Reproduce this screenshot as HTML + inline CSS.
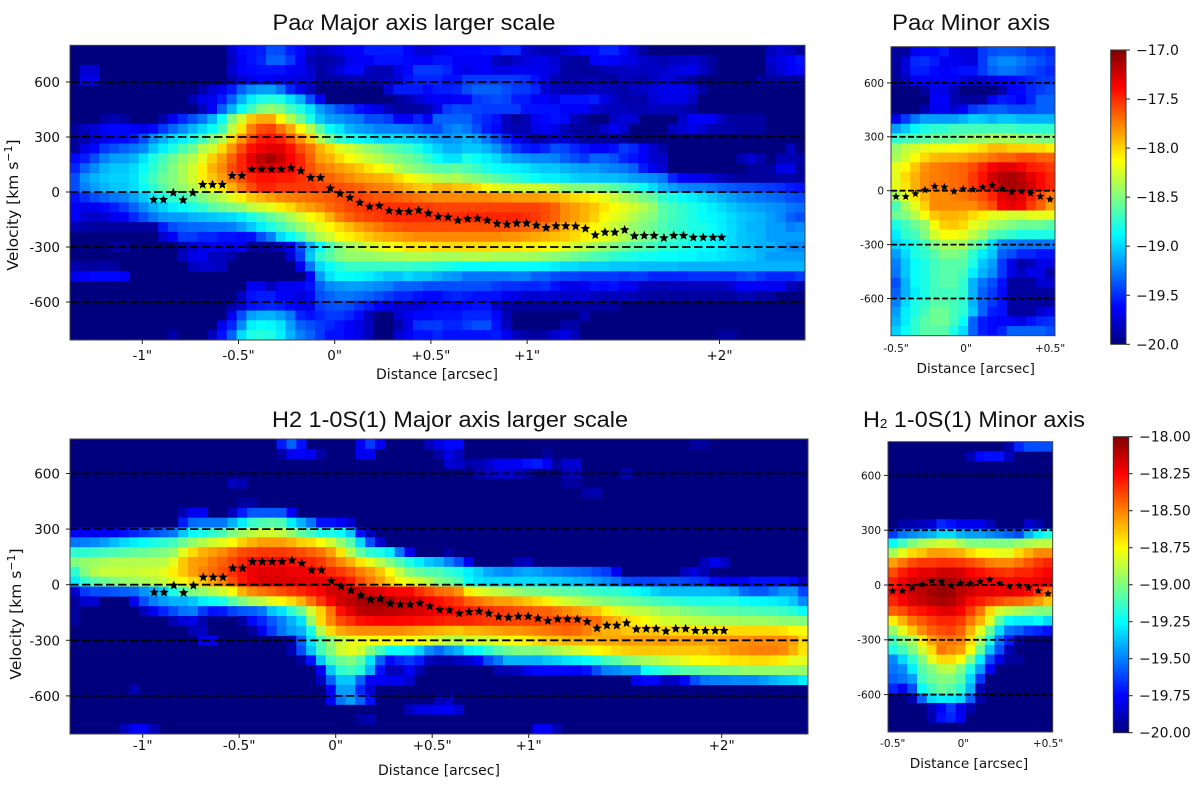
<!DOCTYPE html>
<html>
<head>
<meta charset="utf-8">
<title>Position-velocity diagrams</title>
<style>
html,body{margin:0;padding:0;background:#fff;width:1200px;height:789px;overflow:hidden}
svg{display:block}
text{font-family:"DejaVu Sans",sans-serif;fill:#111}
.ttl{font-family:"Liberation Sans",sans-serif;font-size:22.5px;fill:#111}
.gr{font-family:"Liberation Serif",serif;font-style:italic}
</style>
</head>
<body>
<svg id="fig" xmlns="http://www.w3.org/2000/svg" width="1200" height="789" viewBox="0 0 1200 789">
<defs>
<linearGradient id="jetA" x1="0" y1="1" x2="0" y2="0"></linearGradient>
<linearGradient id="jetB" x1="0" y1="1" x2="0" y2="0"></linearGradient>
</defs>
<text class="ttl" x="272.5" y="30" textLength="283" lengthAdjust="spacingAndGlyphs">Pa<tspan class="gr">α</tspan> Major axis larger scale</text>
<text class="ttl" x="892" y="30" textLength="158" lengthAdjust="spacingAndGlyphs">Pa<tspan class="gr">α</tspan>  Minor axis</text>
<text class="ttl" x="272" y="427" textLength="356" lengthAdjust="spacingAndGlyphs">H2 1-0S(1) Major axis larger scale</text>
<text class="ttl" x="863" y="427" textLength="222" lengthAdjust="spacingAndGlyphs">H<tspan font-size="13" dy="1">2</tspan><tspan dy="-1"> 1-0S(1) Minor axis</tspan></text>
</svg>
<script>
// Data: colour levels are percent of each panel's colour range, rows top to bottom
const paMajorLevels = [
[0,0,0,0,0,0,0,0,0,0,0,0,0,0,0,0,8,13,14,15,20,20,15,13,8,6,8,10,12,12,15,15,15,15,12,8,8,10,12,13,13,13,14,14,16,16,8,6,5,5,8,10,13,13,16,16,13,8,3,0,0,0,0,0,0,0,0,0,0,0,0,6,8,6,3],
[0,0,0,0,0,0,0,0,0,0,0,0,0,0,0,0,6,12,14,16,22,22,18,12,5,4,4,6,10,12,12,14,14,14,13,12,12,14,14,12,12,12,12,6,5,7,9,10,10,8,4,3,3,12,13,12,10,10,7,6,5,6,7,8,6,3,0,0,0,0,0,8,10,12,14],
[0,8,8,0,0,0,0,0,0,0,0,0,0,0,0,0,8,12,13,14,14,14,12,11,8,3,6,9,13,13,7,5,5,10,13,18,18,18,16,12,10,12,12,10,10,11,11,11,10,9,4,3,3,3,5,6,6,7,6,7,7,9,10,11,7,3,0,0,0,0,0,6,9,12,13],
[0,10,10,0,0,0,0,0,0,0,0,0,0,0,0,0,5,8,10,12,11,10,10,9,8,3,3,4,5,5,5,5,6,9,14,16,16,16,14,14,18,18,18,18,18,18,17,14,10,5,4,4,4,4,3,3,6,5,4,6,9,8,5,3,0,0,0,0,0,0,3,3,3,3,3],
[0,0,0,0,0,0,0,0,0,0,0,0,0,4,8,11,15,22,26,28,28,24,16,10,6,0,0,0,0,0,0,0,8,15,15,15,13,15,15,16,20,22,22,22,20,18,18,16,8,6,5,5,5,6,6,5,4,6,7,9,10,11,11,9,3],
[0,0,0,0,0,0,0,0,0,0,0,0,5,10,11,15,22,30,36,40,41,40,35,30,20,11,0,0,0,0,0,0,0,3,5,8,11,12,11,12,12,18,19,20,19,15,15,12,12,10,14,14,14,15,10,7,4,4,4,8,10,10,10,7],
[0,0,0,0,0,0,0,0,0,0,0,0,0,6,12,22,30,38,44,50,52,50,44,40,35,28,24,20,18,14,12,10,6,3,3,3,5,10,18,20,19,19,18,18,18,18,14,14,14,14,12,12,12,8,6,6,6,5,5,6,6,6,5,3],
[0,0,0,3,5,3,0,0,0,4,11,16,20,24,30,38,50,58,68,71,71,63,55,48,40,32,28,27,25,24,20,20,18,12,12,16,12,22,22,22,22,18,16,14,6,3,5,11,13,14,13,6,3,0,0,7,9,8,0,0,0,0,7,12,12,12,6,3,3,3,3],
[3,6,8,12,13,13,12,10,13,18,22,26,30,34,38,44,56,65,75,80,81,76,71,62,55,46,38,35,30,28,27,25,25,25,24,22,20,20,24,26,24,20,15,13,6,5,5,10,12,10,6,3,3,3,7,12,8,0,0,0,0,6,8,10,8,5,4,4,3,3,3],
[3,4,8,11,13,13,15,20,26,30,34,36,40,44,50,55,66,73,80,85,86,84,79,73,67,55,48,42,40,38,36,34,34,34,33,32,30,28,27,28,30,28,24,20,16,12,8,3,5,8,8,6,3,3,3,3,3],
[3,10,13,18,20,22,24,26,32,36,40,45,48,55,58,66,73,80,86,89,90,90,86,80,76,70,66,60,58,55,52,50,47,45,43,40,36,33,30,30,32,32,30,27,22,18,15,14,16,20,19,16,14,12,12,14,18,16,12,8,4,0,0,0,0,0,0,0,0,0,0,0,0,6,0],
[13,15,20,25,28,28,30,35,40,44,48,52,55,60,67,72,78,84,90,94,96,93,88,84,78,72,70,66,62,60,57,55,52,50,48,46,42,38,35,35,40,38,36,34,30,28,27,26,26,25,22,20,18,22,22,20,16,14,12,8,7,0,0,0,0,0,0,0,5,8,5,0,5,5,4],
[16,22,26,30,32,32,34,38,42,46,50,54,58,64,70,74,80,84,88,91,91,90,88,84,80,76,74,72,70,68,65,62,60,55,52,50,48,46,46,47,45,43,40,38,37,36,35,33,32,32,30,29,28,28,26,25,24,22,15,11,8,0,0,0,0,0,0,0,0,3,3,3,10,10,3],
[20,27,30,32,33,33,35,40,44,48,50,54,58,64,68,72,76,80,84,86,86,85,85,83,82,80,78,76,74,72,71,70,69,66,63,60,58,56,54,55,52,50,48,46,44,42,40,38,36,36,35,33,32,32,31,31,30,28,27,26,24,16,12,11,10,8,6,4,3,3,3,3,4,4,3],
[20,25,28,30,32,32,34,38,42,46,50,52,55,58,62,65,70,75,80,84,84,82,82,82,82,81,81,80,79,78,76,75,74,72,70,68,67,70,70,68,68,66,62,60,58,58,58,58,58,56,52,50,50,50,48,46,44,42,38,34,30,28,26,25,25,24,22,21,20,20,19,18,17,15,14],
[14,17,20,22,24,25,28,32,36,40,42,44,46,50,53,56,60,64,68,70,72,74,75,76,77,78,79,80,81,81,80,79,79,78,77,76,75,74,74,74,74,74,74,73,73,72,72,72,71,70,68,66,65,63,60,57,54,52,49,47,42,40,38,36,34,32,30,28,26,25,24,23,22,20,19],
[12,10,11,13,15,18,22,26,30,33,36,38,40,42,46,48,50,52,56,58,60,64,66,70,72,74,77,79,81,82,83,83,83,83,83,82,82,81,81,81,81,81,81,81,81,81,81,81,80,78,74,72,70,68,65,62,60,58,55,52,46,44,42,40,38,36,34,32,30,29,28,27,26,24,23],
[12,8,7,8,11,12,16,20,24,27,28,28,30,31,32,33,34,36,40,43,47,50,54,58,62,65,70,75,78,80,81,82,83,84,84,84,84,83,83,83,84,84,84,84,84,84,83,82,80,78,74,72,70,67,63,60,58,55,52,50,46,44,42,40,38,37,36,34,32,31,30,28,26,22,20],
[5,4,3,3,3,3,3,3,3,15,20,22,23,23,24,24,25,28,32,36,40,44,48,52,56,60,63,66,69,72,74,76,78,79,80,80,80,80,80,80,80,80,80,80,80,79,78,77,76,74,70,68,66,63,60,57,55,52,50,48,45,43,42,40,40,38,36,34,32,30,30,28,28,25,26],
[0,0,0,0,0,0,0,0,0,8,12,18,18,16,16,14,14,13,14,20,25,34,38,43,50,55,58,62,64,66,68,70,71,72,73,74,74,74,74,74,74,74,74,74,73,73,72,71,70,69,68,66,64,62,60,58,55,52,50,48,45,44,42,41,40,38,36,34,32,31,30,28,28,28,28],
[0,0,0,0,3,3,0,0,0,0,0,5,8,10,11,10,10,12,3,3,3,6,11,20,30,38,45,50,54,55,58,60,62,63,65,65,65,66,66,66,66,66,66,65,65,65,64,64,63,62,60,58,56,54,52,50,48,46,45,44,42,41,40,39,38,37,36,34,32,31,30,30,28,26,26],
[0,0,0,0,0,0,0,0,0,0,0,6,10,11,6,6,4,0,0,0,0,0,8,18,32,42,46,50,52,52,52,53,54,54,55,55,55,54,54,54,55,55,55,54,54,54,54,53,52,51,50,48,47,45,44,42,41,40,39,39,38,38,37,37,36,36,35,34,33,32,30,28,28,28,28],
[5,3,3,4,3,0,0,0,0,0,0,0,6,8,7,6,0,0,0,0,0,0,0,11,24,34,38,41,43,43,43,43,43,43,43,42,42,41,40,39,38,38,38,38,38,38,38,38,37,36,34,34,33,33,33,32,32,32,31,31,31,31,30,30,30,30,30,30,30,30,30,30,30,30,30],
[11,12,13,13,13,12,0,0,0,0,0,0,0,0,0,0,0,0,0,0,0,0,0,0,12,28,35,38,38,37,36,34,32,32,34,32,32,30,28,27,24,24,24,24,24,25,25,22,22,20,19,19,18,18,18,18,17,18,18,16,16,16,16,17,17,17,17,17,19,20,18,16,16,16,18],
[0,0,0,0,0,0,0,0,0,0,0,0,0,0,0,0,0,0,11,11,6,11,11,12,14,22,26,27,28,28,27,26,25,22,22,22,20,20,20,20,20,20,20,18,17,17,16,16,17,14,11,10,11,14,13,14,11,11,6,6,5,6,6,6,6,6,6,8,12,12,12,11,11,6,4],
[0,0,0,0,0,0,0,0,0,0,0,0,0,0,0,0,0,6,14,15,15,12,11,9,12,20,22,24,24,23,22,20,18,16,16,14,13,13,15,16,15,14,14,14,11,10,8,8,9,8,7,8,8,6,5,6,6,5,4,3,3,3,3,3,3,3,3,3,5,5,3,3],
[0,0,0,0,0,0,0,0,0,0,0,0,0,0,0,0,4,8,14,15,16,15,13,11,10,18,20,21,20,17,15,12,10,8,8,8,11,12,13,12,13,14,14,7,4,3,3,3,3,3,3,3,3,3,3,3],
[0,0,0,0,0,0,0,0,0,0,0,0,0,0,0,0,11,20,28,30,30,28,24,16,14,16,18,18,16,13,6,0,0,8,11,13,13,14,14,14,16,16,16,13,5,0,0,0,0,0,0,0,5],
[0,0,0,0,0,0,0,0,0,0,0,0,0,0,0,11,16,26,36,38,37,35,28,22,20,18,16,14,12,10,6,0,0,4,10,17,18,18,16,16,18,20,20,14,6,0,0,0,0,0,4,4],
[0,0,0,0,0,0,0,0,0,0,4,0,0,0,6,14,22,34,40,41,40,36,30,25,22,18,14,14,12,10,6,0,0,8,11,14,14,16,14,14,14,14,14,15,11,6,4,3,4,8,10,6,0,0,0,0,0,0,0,0,0,0,0,0,0,0,3,3]
];
const paMinorLevels = [
[3,3,11,13,13,15,10,9,9,18,20,21,21,20,18,18,16],
[3,9,16,17,15,11,11,10,9,18,24,26,26,24,22,20,18],
[3,9,15,15,13,12,13,14,14,18,22,24,24,22,20,18,16],
[2,6,11,12,12,12,12,9,8,8,10,12,13,14,16,18,18],
[0,0,0,3,11,10,5,0,0,0,0,4,12,13,16,18,20],
[0,0,0,0,12,12,5,3,3,3,12,15,14,12,16,22,22],
[0,0,0,5,11,11,8,12,18,20,22,22,20,20,20,22,22],
[10,18,24,28,28,28,28,30,33,32,30,32,32,30,30,30,30],
[28,32,37,40,42,42,44,44,44,44,44,44,44,42,42,42,42],
[42,44,45,46,48,48,48,50,52,52,54,54,54,52,52,50,50],
[52,56,58,60,61,61,62,63,64,66,69,69,67,67,66,66,64],
[54,58,62,66,69,70,70,71,73,74,76,78,78,80,80,78,78],
[60,63,68,73,75,76,77,78,80,84,88,90,90,88,85,84,82],
[60,66,70,74,75,76,77,78,82,86,92,95,96,94,90,87,84],
[60,65,70,74,76,76,77,78,82,86,90,95,96,95,92,87,84],
[54,60,65,70,74,74,75,76,78,80,84,90,92,90,85,80,76],
[45,54,60,67,74,74,74,74,74,77,80,88,90,88,82,78,72],
[48,50,55,62,68,70,70,69,66,64,60,60,58,58,60,60,60],
[40,44,48,52,62,67,68,66,60,58,54,52,50,48,48,48,46],
[36,42,44,50,58,62,62,60,56,52,46,44,42,40,40,40,40],
[33,36,40,44,50,54,54,54,48,44,34,26,25,24,24,24,24],
[28,34,40,42,46,50,50,48,42,36,32,22,20,16,16,14,14],
[25,32,38,40,44,46,46,46,40,32,28,18,10,4,6,10,10],
[24,32,38,40,44,46,46,44,36,30,26,18,10,6,10,10,4],
[20,30,38,40,44,46,46,42,30,24,20,14,3,3,3,8,8],
[22,30,36,40,44,44,44,42,30,22,18,13,3,3,3,3,3],
[25,34,40,42,46,46,44,42,30,22,18,14,3,3,3,3,3],
[28,36,40,44,48,48,44,42,32,22,15,14,3,3,3,8,10],
[30,36,42,46,48,48,44,38,22,15,13,12,12,10,14,16,17],
[33,38,42,46,46,46,40,34,22,15,13,16,22,22,22,22,20]
];
const h2MajorLevels = [
[0,0,0,0,0,0,0,0,0,0,0,0,0,0,0,0,0,0,0,0,0,15,22,14,0,0,0,0,0,12,18,11,0,0,0,0,6,10,13,13,0,0,0,0,0,0,0,0,0,0,0,0,0,0,0,0,0,0,0,0,0,0,0,3,3],
[0,0,0,0,0,0,0,0,0,0,0,0,0,0,0,0,0,0,0,0,0,4,11,12,11,4,0,0,0,11,11,0,0,0,0,0,0,4,10,6,0,0,0,0,0,0,0,0,3],
[0,0,0,0,0,0,0,0,0,0,0,0,0,0,0,0,0,0,0,0,0,0,0,0,0,0,0,0,0,0,0,0,0,0,0,0,0,0,8,7,4,5,8,11,11,12,14,15,12,3,8,8],
[0,0,0,0,0,0,0,0,0,0,0,0,0,0,0,0,0,0,0,0,0,0,0,0,0,0,0,0,0,0,0,0,0,0,0,0,0,0,0,0,0,4,6,9,9,7,4,0,0,0,6,6,0,0,0,0,6],
[0,0,0,0,0,0,0,0,0,0,0,0,0,0,0,0,6,5,0,0,0,0,0,0,0,0,0,0,0,0,0,0,0,0,0,0,0,0,0,0,0,0,0,0,0,0,0,0,0,0,3,3],
[0,0,0,0,0,0,0,0,0,0,0,0,0,0,0,0,0,0,0,0,0,0,0,0,0,0,0,0,0,0,0,0,0,0,0,0,0,0,0,0,0,0,0,0,0,0,0,0,0,0,0,0,4,5],
[0,0,0,0,0,0,0,0,0,0,0,0,0,0,0,0,0,3,3],
[0,0,0,0,0,0,0,0,0,0,0,5,11,11,0,0,6,15,21,21,21,21,12],
[0,0,0,0,0,0,0,0,0,0,0,15,23,24,24,24,30,36,43,45,46,45,36,30,24,14,14,12,8],
[12,11,11,12,11,14,16,18,20,22,24,32,38,40,42,45,50,53,56,58,58,56,52,47,44,40,40,38,32,14,5],
[24,25,26,28,31,34,36,38,40,42,44,48,52,55,58,60,63,67,70,72,72,72,70,67,66,62,58,52,46,34,20,8],
[42,42,43,44,45,46,47,48,49,50,52,60,66,70,72,74,77,80,81,82,82,82,81,80,78,76,72,65,55,47,42,40,36,24,11,0,0,0,3],
[50,52,53,54,55,55,55,55,55,56,60,68,72,73,76,78,81,84,87,87,87,87,86,85,84,82,78,74,70,65,60,55,50,45,40,36,32,30,25,20,11,0,0,0,0,5,6,0,0,0,0,0,0,0,0,0,0,0,0,0,0,0,0,0,6,11,7],
[42,50,55,57,57,57,57,58,58,60,64,68,72,75,77,80,83,86,89,90,90,90,89,89,88,86,84,82,79,75,72,68,62,56,50,47,45,45,42,40,36,33,29,27,26,28,29,28,26,25,24,23,22,20,18,11,0,0,0,0,0,0,6,9,5],
[36,42,46,48,50,52,53,54,55,57,60,63,66,68,72,75,80,85,89,91,91,91,91,90,90,90,89,89,85,80,76,72,67,62,60,58,55,50,48,45,38,35,34,34,34,34,34,34,33,33,32,31,30,28,26,24,20,19,19,19,20,20,19,18,17,13,11,11,12,14,14,14,14,13,6],
[8,18,20,20,21,22,23,27,30,33,40,45,50,52,55,58,62,70,74,76,78,80,82,84,86,88,92,92,92,93,91,90,88,87,87,83,80,77,76,73,64,60,58,56,54,52,50,49,48,47,46,46,44,43,42,42,40,38,36,33,31,31,31,31,31,31,30,28,23,21,21,24,27,27,19],
[3,8,8,0,0,0,11,20,25,28,30,30,32,36,38,40,46,50,54,56,60,63,66,70,76,82,88,92,94,96,97,97,96,92,92,90,88,86,84,82,78,76,74,72,72,70,68,66,64,60,58,56,54,52,50,49,48,47,45,44,43,42,41,40,40,40,40,40,38,37,37,36,35,32,26],
[3,0,0,0,0,0,0,6,11,16,20,24,25,18,14,15,19,21,22,24,32,35,42,48,58,67,76,86,90,94,95,95,94,93,92,91,90,88,87,86,85,84,83,82,81,80,79,78,78,76,74,72,70,68,64,60,58,56,56,54,52,52,50,49,48,47,46,46,45,45,44,44,43,41,38],
[3,0,0,0,0,0,0,0,0,0,5,9,10,4,0,0,0,4,13,16,21,25,30,35,52,66,74,80,83,86,87,88,88,87,87,86,86,85,84,84,84,83,82,82,81,81,81,81,80,80,80,79,78,77,72,70,66,64,62,60,58,58,57,56,55,55,54,54,53,53,53,52,51,51,50],
[0,0,0,0,0,0,0,0,0,0,0,0,5,6,0,0,0,0,3,11,18,24,28,30,40,55,66,71,73,74,74,74,74,74,73,72,71,70,69,68,70,70,71,72,73,73,74,75,76,77,78,77,75,72,70,70,68,68,68,68,66,66,66,65,65,65,66,66,66,66,66,66,65,63,62],
[0,0,0,0,0,0,0,0,0,0,0,0,0,10,11,0,0,0,0,0,0,0,4,22,35,45,52,57,60,61,62,62,62,62,62,61,60,58,56,55,58,58,58,60,62,62,64,66,68,68,70,70,70,70,71,71,72,72,72,72,73,72,72,72,72,72,73,73,73,74,74,74,74,72,66],
[0,0,0,0,0,0,0,0,0,0,0,0,0,0,0,0,0,0,0,0,0,0,5,20,32,44,50,58,60,58,50,44,38,38,37,33,26,23,27,30,36,38,42,46,48,50,50,50,52,54,56,58,60,62,64,66,67,68,68,68,68,68,68,68,68,70,71,73,74,75,75,75,74,70,65],
[0,0,0,0,0,0,0,0,0,0,0,0,0,0,0,0,0,0,0,0,0,0,0,3,14,32,44,48,50,46,35,22,13,16,18,15,6,4,4,6,8,12,20,24,30,30,30,30,32,33,35,36,38,40,44,46,50,52,54,55,57,58,60,62,62,63,64,65,65,66,66,65,64,60,60],
[0,0,0,0,0,0,0,0,0,0,0,0,0,0,0,0,0,0,0,0,0,0,0,0,0,11,32,42,44,41,30,14,5,6,12,5,0,0,0,0,0,0,0,5,5,6,11,13,13,13,13,12,14,20,25,26,28,28,38,40,42,44,46,46,48,48,50,50,52,52,52,52,52,52,52],
[0,0,0,0,0,0,0,0,0,0,0,0,0,0,0,0,0,0,0,0,0,0,0,0,0,6,22,32,32,22,12,12,11,11,8,0,0,0,0,0,0,0,0,0,0,0,0,0,0,0,0,0,0,0,0,0,0,11,13,13,6,7,13,20,24,25,25,26,26,26,28,30,32,33,36],
[0,0,0,0,0,0,5,0,0,0,0,0,0,0,0,0,0,0,0,0,0,0,0,0,0,0,12,28,28,16,8],
[0,0,0,0,0,0,0,0,0,0,0,0,0,0,0,0,0,0,0,0,0,0,0,0,0,0,12,24,28,22,14,0,0,0,0,0,0,5,6],
[0,0,0,0,0,0,0,0,0,0,0,0,0,0,0,0,0,0,0,0,0,0,0,0,0,0,0,0,0,0,0,0,0,0,6,10,10,11,12,8],
[0,0,0,0,0,0,0,0,0,0,0,0,0,0,0,0,0,0,0,0,0,0,0,0,0,0,0,0,0,3,5],
[0,0,0,0,0,6,12,12,5,0,0,0,0,0,0,0,0,0,0,0,0,0,0,0,0,0,0,0,0,0,0,0,0,0,0,0,0,0,0,0,0,0,0,0,0,0,0,12,12,5]
];
const h2MinorLevels = [
[0,0,0,0,0,0,0,0,0,0,0,0,5,16,20,20,20],
[0,0,0,0,0,0,0,0,5,13,14,14,6,0,0,0,0],
[0],[0],[0],[0],[0],[0],
[0,4,5,6,8,16,14,11,11,11,6,0,0,0,8,5,0],
[18,24,26,28,30,34,34,30,28,28,26,24,22,20,30,36,40],
[38,44,50,54,56,58,58,54,50,50,50,50,50,52,54,56,56],
[54,60,66,68,72,72,71,70,66,63,62,60,60,66,70,74,74],
[72,76,80,82,82,83,83,82,80,78,75,74,74,76,79,82,84],
[80,85,88,90,90,92,92,91,88,86,84,83,82,84,84,86,88],
[85,89,92,93,95,96,96,94,92,90,89,88,87,88,88,89,90],
[86,89,92,94,96,98,97,94,92,90,90,89,90,89,87,82,78],
[84,88,91,93,95,96,95,92,87,85,82,80,78,77,75,72,68],
[78,80,84,86,88,90,90,88,82,76,66,58,56,54,52,50,50],
[64,70,76,79,82,84,84,82,76,70,60,46,38,36,36,38,34],
[52,60,68,74,78,80,81,78,70,60,48,34,24,22,18,16,14],
[44,50,54,64,72,75,76,75,66,54,40,24,15,3,0,0,0],
[40,44,50,58,66,76,74,72,62,48,32,20,5,0,0,0,0],
[26,34,42,50,60,66,66,62,50,36,20,10,3,3,0,0,0],
[24,26,36,46,50,55,56,50,40,28,12,0,0,0,0,0,0],
[22,24,28,44,48,50,50,46,34,18,0,0,0,0,0,0,0],
[16,11,20,38,44,48,46,42,30,5,0,0,0,0,0,0,0],
[0,0,5,22,34,36,36,34,22,4,0,0,0,0,0,0,0],
[0,0,0,0,6,12,18,10,5,0,0,0,0,0,0,0,0],
[0,0,0,0,5,14,16,12,0,0,0,0,0,0,0,0,0],
[0]
];
// Velocity centroid stars
const majorStarDist = [-0.941,-0.89,-0.839,-0.788,-0.737,-0.686,-0.635,-0.584,-0.533,-0.482,-0.431,-0.38,-0.329,-0.278,-0.227,-0.176,-0.125,-0.074,-0.023,0.028,0.079,0.13,0.181,0.232,0.283,0.334,0.385,0.436,0.487,0.538,0.589,0.64,0.691,0.742,0.793,0.844,0.895,0.946,0.997,1.048,1.099,1.15,1.201,1.252,1.303,1.354,1.405,1.456,1.507,1.558,1.609,1.66,1.711,1.762,1.813,1.864,1.915,1.966,2.011];
const majorStarVel = [-42,-42,-4,-44,-4,40,40,40,89,89,124,124,124,124,131,115,78,78,20,-9,-31,-58,-80,-75,-102,-107,-107,-100,-116,-135,-138,-155,-147,-144,-155,-173,-177,-171,-171,-182,-195,-186,-186,-187,-200,-235,-220,-220,-207,-240,-238,-238,-251,-238,-238,-248,-248,-248,-248];
const minorStarDist = [-0.5,-0.437,-0.374,-0.312,-0.249,-0.186,-0.123,-0.063,0,0.063,0.125,0.188,0.251,0.314,0.374,0.437,0.5];
const minorStarVel = [-33,-33,-17,4,24,20,-4,9,7,19,30,9,-7,-4,-15,-32,-48];
// Axis ticks and labels
const dashVelocities = [600,300,0,-300,-600];
const velTicks = [600,300,0,-300,-600];
const velTickLabels = ["600","300","0","-300","-600"];
const majorDistTicks = [-1,-0.5,0,0.5,1,2];
const majorDistLabels = ['-1"','-0.5"','0"','+0.5"','+1"','+2"'];
const minorDistTicks = [-0.5,-0.045,0.5];
const minorDistLabels = ['-0.5"','0"','+0.5"'];
const paBarTicks = [-17,-17.5,-18,-18.5,-19,-19.5,-20];
const paBarLabels = ["−17.0","−17.5","−18.0","−18.5","−19.0","−19.5","−20.0"];
const h2BarTicks = [-18,-18.25,-18.5,-18.75,-19,-19.25,-19.5,-19.75,-20];
const h2BarLabels = ["−18.00","−18.25","−18.50","−18.75","−19.00","−19.25","−19.50","−19.75","−20.00"];

const NS = "http://www.w3.org/2000/svg";
const fig = document.getElementById("fig");
function mk(tag, attrs, parent) {
  const e = document.createElementNS(NS, tag);
  for (const k in attrs) e.setAttribute(k, attrs[k]);
  (parent || fig).appendChild(e);
  return e;
}
function linear(d0, d1, r0, r1) { return v => r0 + (v - d0) * (r1 - r0) / (d1 - d0); }
function clip01(v) { return Math.max(0, Math.min(1, v)); }
function jet(t) {
  const r = clip01(1.5 - Math.abs(4 * t - 3));
  const g = clip01(1.5 - Math.abs(4 * t - 2));
  const b = clip01(1.5 - Math.abs(4 * t - 1));
  return "rgb(" + Math.round(r * 255) + "," + Math.round(g * 255) + "," + Math.round(b * 255) + ")";
}
function starPath(cx, cy, R) {
  let d = "";
  for (let i = 0; i < 10; i++) {
    const rad = i % 2 ? R * 0.45 : R;
    const a = -Math.PI / 2 + i * Math.PI / 5;
    d += (i ? "L" : "M") + (cx + rad * Math.cos(a)).toFixed(2) + " " + (cy + rad * Math.sin(a)).toFixed(2);
  }
  return d + "Z";
}
function drawPanel(p) {
  const g = mk("g", {});
  
  
  const bg = mk("rect", {x: p.x0, y: p.y0, width: p.x1 - p.x0, height: p.y1 - p.y0, fill: "#00007f"}, g);
  
  
  const cw = (p.x1 - p.x0) / p.cols, ch = (p.y1 - p.y0) / p.levels.length;
  p.levels.forEach((row, i) => {
    for (let j = 0; j < Math.min(row.length, p.cols); j++) {
      if (!row[j]) continue;
      const c = mk("rect", {x: (p.x0 + j * cw).toFixed(2), y: (p.y0 + i * ch).toFixed(2), width: (cw + 0.3).toFixed(2), height: (ch + 0.3).toFixed(2), fill: jet(row[j] / 100)}, g);
      
      
    }
  });
  dashVelocities.forEach(v => {
    const l = mk("line", {x1: p.x0, x2: p.x1, y1: p.yS(v), y2: p.yS(v), stroke: "#000", "stroke-width": 1.8, "stroke-dasharray": p.dash}, g);
    
    
  });
  p.starD.forEach((d, i) => {
    const s = mk("path", {d: starPath(p.xS(d), p.yS(p.starV[i]), p.starR), fill: "#000"}, g);
    
    
  });
  const fr = mk("rect", {x: p.x0, y: p.y0, width: p.x1 - p.x0, height: p.y1 - p.y0, fill: "none", stroke: "#444", "stroke-width": 1}, g);
  
  
  velTicks.forEach((v, i) => {
    const t = mk("line", {x1: p.x0 - 4, x2: p.x0, y1: p.yS(v), y2: p.yS(v), stroke: "#222", "stroke-width": 1}, g);
    
    
    const lb = mk("text", {x: p.x0 - p.yLabGap, y: p.yS(v) + p.tickFont * 0.37, "text-anchor": "end", "font-size": p.tickFont}, g);
    lb.textContent = velTickLabels[i];
    
    
  });
  p.xTicks.forEach((v, i) => {
    if (p.xTickMarks) {
      const t = mk("line", {x1: p.xS(v), x2: p.xS(v), y1: p.y1, y2: p.y1 + 4, stroke: "#222", "stroke-width": 1}, g);
      
      
    }
    const lb = mk("text", {x: p.xS(v), y: p.xLabY, "text-anchor": "middle", "font-size": p.tickFont}, g);
    lb.textContent = p.xLabels[i];
    
    
  });
  const xt = mk("text", {x: p.xTitleX, y: p.xTitleY, "text-anchor": "middle", "font-size": p.xTitleFont}, g);
  xt.textContent = "Distance [arcsec]";
  
  
  if (p.yTitleX) {
    const yt = mk("text", {transform: "translate(" + p.yTitleX + "," + p.yTitleY + ") rotate(-90)", "text-anchor": "middle", "font-size": 15.5}, g);
    
    
    yt.appendChild(document.createTextNode("Velocity [km s"));
    const sup = mk("tspan", {dy: -6, "font-size": 11}, yt);
    sup.textContent = "−1";
    const end = mk("tspan", {dy: 6}, yt);
    end.textContent = "]";
  }
}
drawPanel({name:"pa-major-panel",levels:paMajorLevels,cols:75,x0:70,x1:805,y0:45.3,y1:340,
  xS:linear(0,1,334.7,527.1),yS:linear(0,300,192,137),starD:majorStarDist,starV:majorStarVel,starR:5,dash:"8.5 3.5",
  tickFont:13.5,yLabGap:10,xTicks:majorDistTicks,xLabels:majorDistLabels,xTickMarks:true,xLabY:360,
  xTitleX:437,xTitleY:379,xTitleFont:14,yTitleX:18,yTitleY:205});
drawPanel({name:"pa-minor-panel",levels:paMinorLevels,cols:17,x0:891,x1:1055,y0:46.7,y1:335.7,
  xS:linear(-0.5,0.5,896,1050),yS:linear(0,300,190.7,136.8),starD:minorStarDist,starV:minorStarVel,starR:4.2,dash:"6 2.5",
  tickFont:10.5,yLabGap:7,xTicks:minorDistTicks,xLabels:minorDistLabels,xTickMarks:false,xLabY:352,
  xTitleX:975.7,xTitleY:373,xTitleFont:13.6});
drawPanel({name:"h2-major-panel",levels:h2MajorLevels,cols:75,x0:70,x1:808,y0:439,y1:734,
  xS:linear(0,1,335.7,528.7),yS:linear(0,300,584.7,529.1),starD:majorStarDist,starV:majorStarVel,starR:5,dash:"8.5 3.5",
  tickFont:13.5,yLabGap:10,xTicks:majorDistTicks,xLabels:majorDistLabels,xTickMarks:true,xLabY:750,
  xTitleX:439,xTitleY:775,xTitleFont:14,yTitleX:21,yTitleY:614});
drawPanel({name:"h2-minor-panel",levels:h2MinorLevels,cols:17,x0:888,x1:1052.7,y0:441.7,y1:732,
  xS:linear(-0.5,0.5,892.7,1048),yS:linear(0,300,585,530.2),starD:minorStarDist,starV:minorStarVel,starR:4.2,dash:"6 2.5",
  tickFont:10.5,yLabGap:7,xTicks:minorDistTicks,xLabels:minorDistLabels,xTickMarks:false,xLabY:747,
  xTitleX:969,xTitleY:768,xTitleFont:13.6});
function drawBar(id, name, x0, x1, y0, y1, lo, hi, ticks, labels, labelX) {
  const grad = document.getElementById(id);
  for (let i = 0; i <= 32; i++) {
    mk("stop", {offset: (i / 32), "stop-color": jet(i / 32)}, grad);
  }
  const g = mk("g", {});
  
  
  const r = mk("rect", {x: x0, y: y0, width: x1 - x0, height: y1 - y0, fill: "url(#" + id + ")", stroke: "#333", "stroke-width": 1}, g);
  
  
  const yS = linear(lo, hi, y1, y0);
  ticks.forEach((v, i) => {
    const t = mk("line", {x1: x1, x2: x1 + 4, y1: yS(v), y2: yS(v), stroke: "#222", "stroke-width": 1}, g);
    
    
    const lb = mk("text", {x: labelX, y: yS(v) + 5, "font-size": 14}, g);
    lb.textContent = labels[i];
    
    
  });
}
drawBar("jetA", "pa-colorbar", 1110.7, 1126, 50, 344.3, -20, -17, paBarTicks, paBarLabels, 1136);
drawBar("jetB", "h2-colorbar", 1113.3, 1128.7, 436.7, 732.7, -20, -18, h2BarTicks, h2BarLabels, 1139);
</script>
</body>
</html>
